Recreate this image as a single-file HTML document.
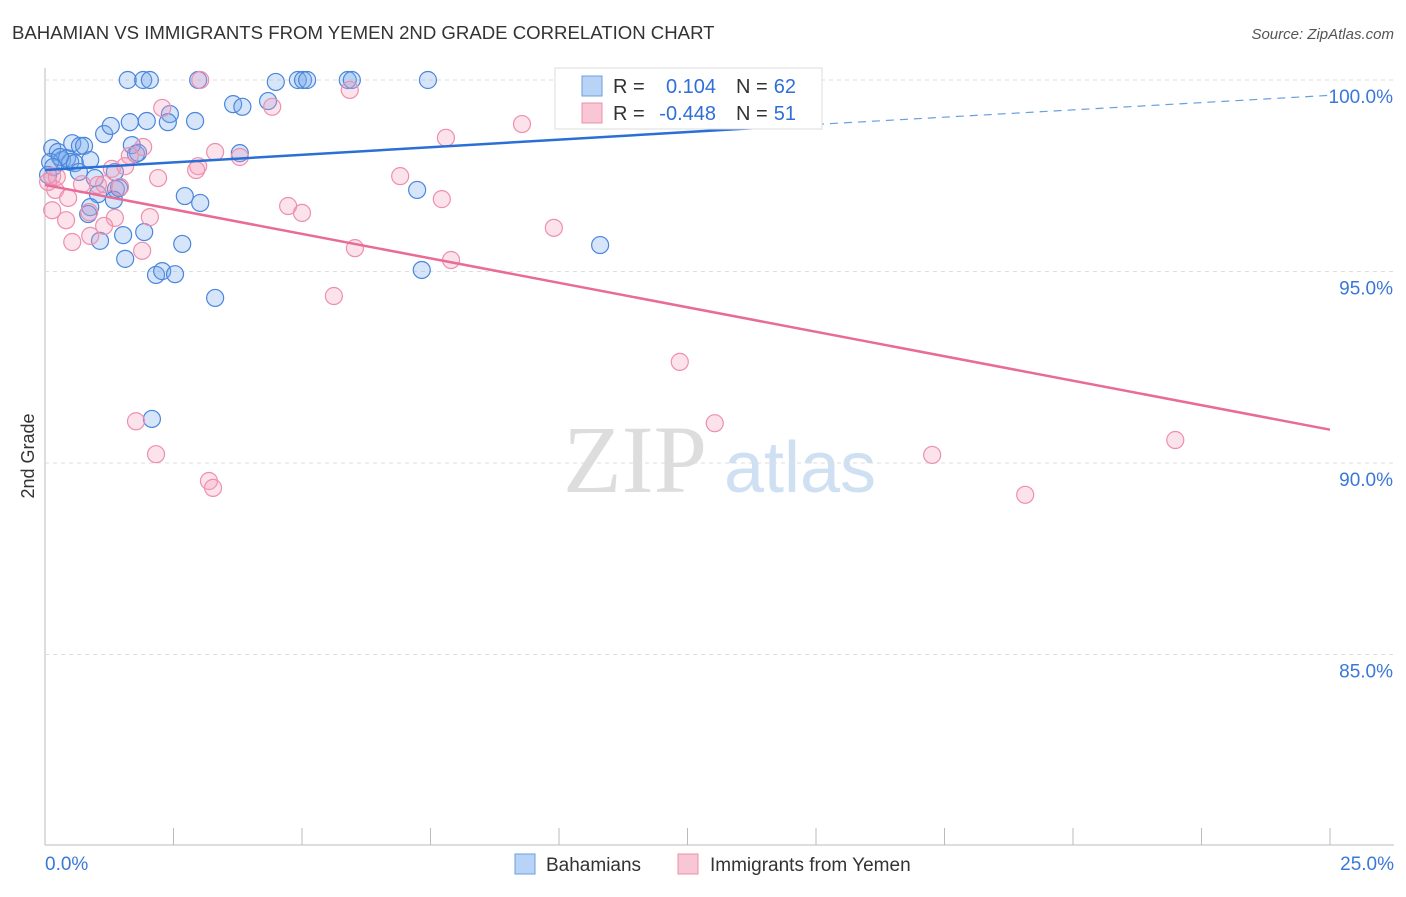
<!DOCTYPE html>
<html><head><meta charset="utf-8"><style>
body{margin:0;background:#fff;font-family:"Liberation Sans",sans-serif}
</style></head><body>
<svg id="c" width="1406" height="892" xmlns="http://www.w3.org/2000/svg">
<text x="12" y="39" font-size="18.6" fill="#333">BAHAMIAN VS IMMIGRANTS FROM YEMEN 2ND GRADE CORRELATION CHART</text>
<text x="1394" y="39" font-size="15" fill="#555" font-style="italic" text-anchor="end">Source: ZipAtlas.com</text>
<text x="34" y="456" font-size="18" fill="#333" transform="rotate(-90 34 456)" text-anchor="middle">2nd Grade</text>
<text x="635" y="492" font-size="96" fill="#ddd" font-family="Liberation Serif" text-anchor="middle">ZIP</text>
<text x="800" y="492" font-size="72" fill="#cfe0f3" text-anchor="middle">atlas</text>
<g id="grid"></g><g id="pts"></g><g id="lines"></g>
<g>
<rect x="555" y="68" width="267" height="61" fill="#fff" stroke="#ddd"/>
<rect x="582" y="76" width="20" height="20" fill="#b8d3f5" stroke="#6a9fe0"/>
<rect x="582" y="103" width="20" height="20" fill="#f9c6d6" stroke="#ec8fab"/>
<text x="613" y="93" font-size="20" fill="#333">R =</text>
<text x="716" y="93" font-size="20" fill="#2f6fd8" text-anchor="end">0.104</text>
<text x="736" y="93" font-size="20" fill="#333">N =</text>
<text x="796" y="93" font-size="20" fill="#2f6fd8" text-anchor="end">62</text>
<text x="613" y="120" font-size="20" fill="#333">R =</text>
<text x="716" y="120" font-size="20" fill="#2f6fd8" text-anchor="end">-0.448</text>
<text x="736" y="120" font-size="20" fill="#333">N =</text>
<text x="796" y="120" font-size="20" fill="#2f6fd8" text-anchor="end">51</text>
</g>
<g>
<rect x="515" y="854" width="20" height="20" fill="#b8d3f5" stroke="#6a9fe0"/>
<text x="546" y="871" font-size="19" fill="#333">Bahamians</text>
<rect x="678" y="854" width="20" height="20" fill="#f9c6d6" stroke="#ec8fab"/>
<text x="710" y="871" font-size="19" fill="#333">Immigrants from Yemen</text>
</g>
</svg>
<script>
const blueX=[1.61,1.91,2.04,2.98,4.49,4.92,5.02,5.1,5.89,5.97,7.45,2.43,3.66,3.84,4.34,1.15,1.28,1.65,1.98,2.39,2.92,0.14,0.25,0.33,0.43,0.53,0.68,0.76,0.88,0.49,0.58,0.1,0.06,0.29,0.66,0.97,1.03,0.88,0.84,1.36,1.38,1.44,1.34,1.77,1.69,1.81,3.79,2.72,3.02,1.52,1.07,1.93,2.67,1.56,2.16,2.28,2.53,3.31,2.08,7.24,7.33,10.8,0.16];
const blueY=[100,100,100,100,99.95,100,100,100,100,100,100,99.11,99.37,99.3,99.45,98.59,98.8,98.9,98.93,98.9,98.93,98.22,98.12,97.91,97.96,98.35,98.28,98.28,97.91,97.86,97.83,97.86,97.52,97.99,97.6,97.44,97.02,96.68,96.5,97.6,97.15,97.18,96.87,98.07,98.3,98.1,98.09,96.97,96.79,95.95,95.8,96.03,95.72,95.33,94.91,95.01,94.93,94.31,91.15,97.13,95.04,95.69,97.73];
const pinkX=[3.02,5.93,2.28,4.42,9.28,7.8,1.91,3.31,3.79,1.65,1.3,1.56,2.98,2.2,2.94,6.91,0.72,1.03,1.15,1.46,0.14,0.2,0.45,0.14,0.41,0.86,1.36,2.04,1.15,0.53,0.88,1.89,4.73,5,7.72,9.9,6.03,7.9,5.62,12.35,13.03,1.77,2.16,3.19,3.27,17.26,19.07,21.99,0.06,0.23];
const pinkY=[100,99.74,99.27,99.3,98.85,98.49,98.25,98.12,97.99,98.02,97.68,97.75,97.75,97.44,97.65,97.49,97.28,97.26,97.28,97.21,97.49,97.13,96.92,96.6,96.34,96.55,96.4,96.42,96.19,95.77,95.93,95.54,96.71,96.53,96.89,96.14,95.61,95.3,94.36,92.64,91.04,91.09,90.23,89.53,89.35,90.21,89.17,90.6,97.34,97.47];
const xTicks=[0,2.5,5,7.5,10,12.5,15,17.5,20,22.5,25];
const yTicks=[100,95,90,85];
const blueLine=[0,97.65,15,98.84,25,99.6];
const pinkLine=[0,97.26,25,90.87];
const X=v=>45+v/25*1285, Y=v=>80+(100-v)*38.3;
const ns='http://www.w3.org/2000/svg';
function mk(p,t,a){const e=document.createElementNS(ns,t);for(const k in a)e.setAttribute(k,a[k]);document.getElementById(p).appendChild(e);return e;}
const ax=mk('grid','line',{x1:45,y1:68,x2:45,y2:845,stroke:'#bbb'});


const bx=mk('grid','line',{x1:45,y1:845,x2:1394,y2:845,stroke:'#bbb'});


yTicks.forEach(t=>{
 const g=mk('grid','line',{x1:45,y1:Y(t),x2:1394,y2:Y(t),stroke:'#ddd','stroke-dasharray':'4 4'});
 
 
 const l=mk('grid','text',{x:1393,y:Y(t)+23,'font-size':19,fill:'#3a78d8','text-anchor':'end'});
 l.textContent=t.toFixed(1)+'%';
 
 
});
xTicks.forEach((t,i)=>{
 if(i>0){const k=mk('grid','line',{x1:X(t),y1:828,x2:X(t),y2:845,stroke:'#bbb'});
 
 }
});
[[0,'start',45],[25,'end',1394]].forEach(([t,a,x])=>{
 const l=mk('grid','text',{x:x,y:870,'font-size':19,fill:'#3a78d8','text-anchor':a});
 l.textContent=t.toFixed(1)+'%';
 
 
});
blueX.forEach((v,i)=>{const c=mk('pts','circle',{cx:X(v),cy:Y(blueY[i]),r:8.5,fill:'rgba(120,170,235,0.3)',stroke:'#4a86dc','stroke-width':1.2});
 
 });
pinkX.forEach((v,i)=>{const c=mk('pts','circle',{cx:X(v),cy:Y(pinkY[i]),r:8.5,fill:'rgba(245,160,190,0.3)',stroke:'#ee8fae','stroke-width':1.2});
 
 });
const b1=mk('lines','line',{x1:X(blueLine[0]),y1:Y(blueLine[1]),x2:X(blueLine[2]),y2:Y(blueLine[3]),stroke:'#2a6fd6','stroke-width':2.5});


const b2=mk('lines','line',{x1:X(blueLine[2]),y1:Y(blueLine[3]),x2:X(blueLine[4]),y2:Y(blueLine[5]),stroke:'#6a9fe0','stroke-width':1.2,'stroke-dasharray':'8 6'});


const p1=mk('lines','line',{x1:X(pinkLine[0]),y1:Y(pinkLine[1]),x2:X(pinkLine[2]),y2:Y(pinkLine[3]),stroke:'#e86b98','stroke-width':2.5});


</script>
</body></html>
